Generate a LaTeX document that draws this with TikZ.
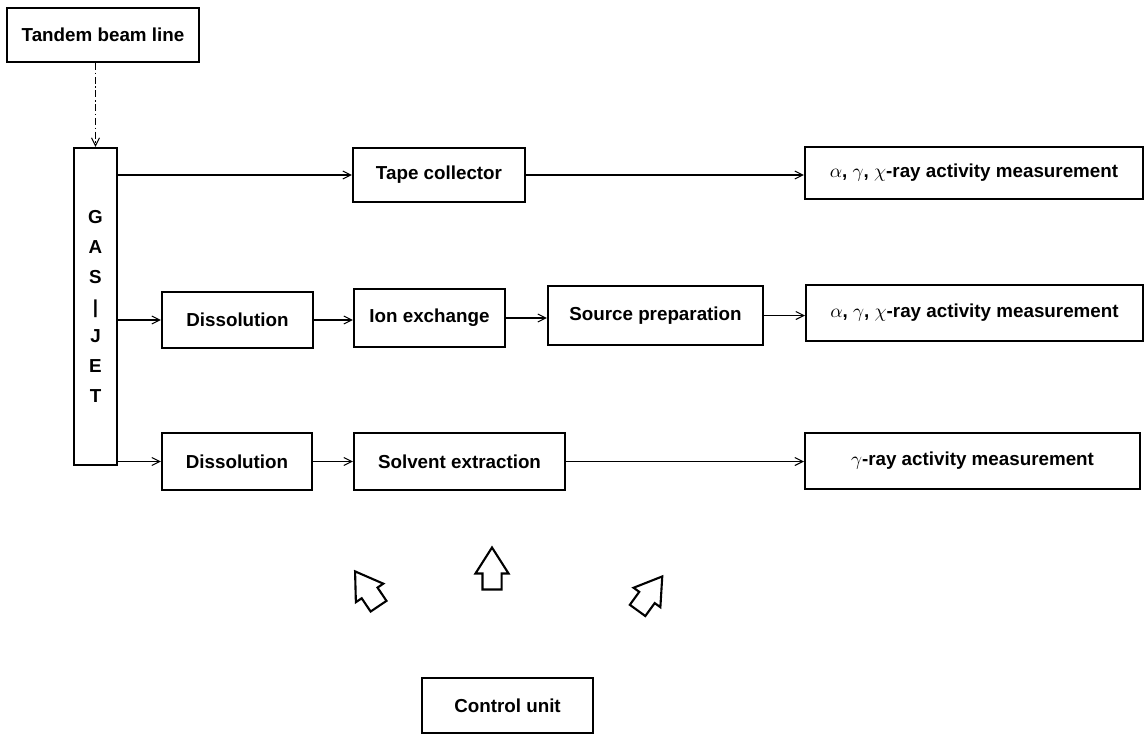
\documentclass[tikz,border=0pt]{standalone}
\usepackage{fontspec}
\setmainfont{Liberation Sans}
\usepackage{tikz}
\usetikzlibrary{shapes.arrows,arrows.meta,positioning,calc}

\begin{document}
\begin{tikzpicture}[
    x=0.02cm, y=-0.02cm,
    block/.style={draw, line width=1.2pt, inner sep=0pt, font=\fontsize{10.7}{13}\selectfont\bfseries, align=center},
    arrow/.style={-{Straight Barb[length=1.6mm,width=1.6mm]}, line width=0.6pt},
    beamline/.style={arrow, dash pattern=on 4pt off 1.5pt on 0.8pt off 1.5pt},
    hollow/.style={draw, line width=1.2pt, single arrow, inner xsep=0pt, inner ysep=0.17cm, minimum height=0.84cm, single arrow head extend=0.14cm, single arrow tip angle=65, single arrow head indent=0pt},
]
    \useasboundingbox (0,0) rectangle (1145,737);

    % Source and gas jet
    \node[block, minimum width=3.84cm, minimum height=1.08cm] (beam) at (103,35) {Tandem beam line};
    \node[block, minimum width=0.86cm, minimum height=6.34cm, font=\fontsize{10.7}{16.9}\selectfont\bfseries] (gasjet) at (95.5,306.5) {G\\A\\S\\|\\J\\E\\T};

    % Row 1
    \node[block, minimum width=3.44cm, minimum height=1.08cm] (tape) at (439,175) {Tape collector};
    \node[block, minimum width=6.76cm, minimum height=1.04cm] (meas1) at (974,173) {$\alpha$, $\gamma$, $\chi$-ray activity measurement};

    % Row 2
    \node[block, minimum width=3.02cm, minimum height=1.12cm] (diss1) at (237.5,320) {Dissolution};
    \node[block, minimum width=3.02cm, minimum height=1.16cm] (ion) at (429.5,318) {Ion exchange};
    \node[block, minimum width=4.30cm, minimum height=1.18cm] (source) at (655.5,315.5) {Source preparation};
    \node[block, minimum width=6.74cm, minimum height=1.12cm] (meas2) at (974.5,313) {$\alpha$, $\gamma$, $\chi$-ray activity measurement};

    % Row 3
    \node[block, minimum width=3.00cm, minimum height=1.14cm] (diss2) at (237,461.5) {Dissolution};
    \node[block, minimum width=4.22cm, minimum height=1.14cm] (solvent) at (459.5,461.5) {Solvent extraction};
    \node[block, minimum width=6.70cm, minimum height=1.12cm] (meas3) at (972.5,461) {$\gamma$-ray activity measurement};

    % Control
    \node[block, minimum width=3.42cm, minimum height=1.10cm] (control) at (507.5,705.5) {Control unit};
    \node[hollow, rotate=124] (ctlA) at (371,595) {};
    \node[hollow, rotate=90] (ctlB) at (492,576) {};
    \node[hollow, rotate=54] (ctlC) at (645.5,599.5) {};

    % Arrows
    \draw[beamline] (beam.south -| gasjet) -- (gasjet.north);
    \draw[arrow] (gasjet.east |- tape) -- (tape);
    \draw[arrow] (tape) -- (tape -| meas1.west);
    \draw[arrow] (gasjet.east |- diss1) -- (diss1);
    \draw[arrow] (diss1) -- (diss1 -| ion.west);
    \draw[arrow] (ion) -- (ion -| source.west);
    \draw[arrow] (source) -- (source -| meas2.west);
    \draw[arrow] (gasjet.east |- diss2) -- (diss2);
    \draw[arrow] (diss2) -- (solvent);
    \draw[arrow] (solvent) -- (solvent -| meas3.west);
\end{tikzpicture}
\end{document}
